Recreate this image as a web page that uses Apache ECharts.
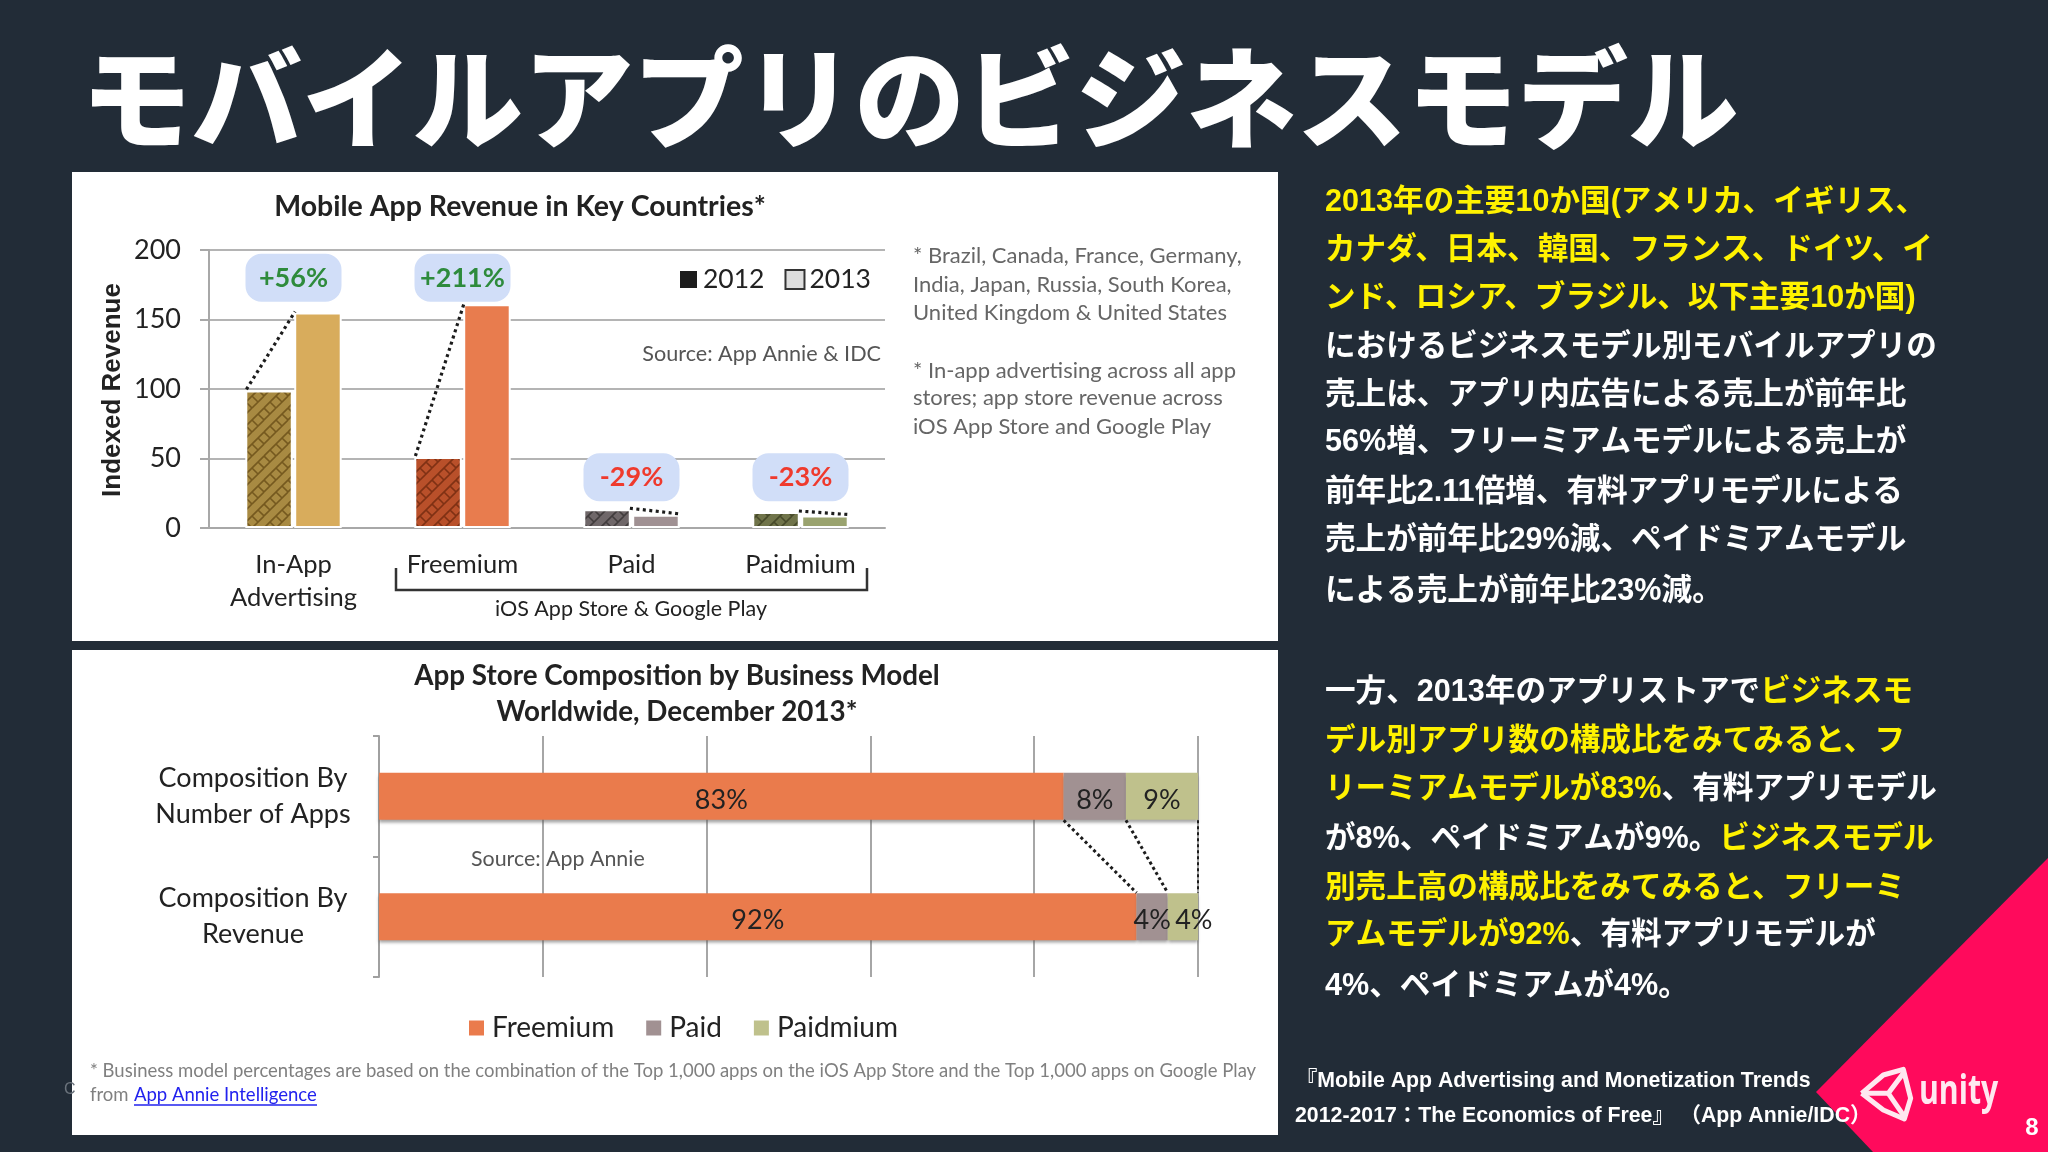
<!DOCTYPE html>
<html><head><meta charset="utf-8">
<style>html,body{margin:0;padding:0;background:#222c37}#c{width:2048px;height:1152px}</style>
<script src="https://cdn.jsdelivr.net/npm/echarts@6/dist/echarts.min.js"></script>
</head><body><div id="c"></div>
<script>
const revenueCategories = ['In-App\nAdvertising', 'Freemium', 'Paid', 'Paidmium'];
const revenue2012 = [99, 51, 13.5, 11.5];
const revenue2013 = [155, 161, 9.5, 9];
const growthLabels = ['+56%', '+211%', '-29%', '-23%'];
const growthHeights = [180, 180, 36.5, 36.5];
const revenueTicks = { min: 0, max: 200, interval: 50 };

const compositionCategories = ['Composition By\nNumber of Apps', 'Composition By\nRevenue'];
const freemiumShare = [83.6, 92.5];
const paidShare = [7.6, 3.8];
const paidmiumShare = [8.8, 3.7];
const freemiumLabels = ['83%', '92%'];
const paidLabels = ['8%', '4%'];
const paidmiumLabels = ['9%', '4%'];

const titleText = 'モバイルアプリのビジネスモデル';
const bodyLines = [
  [['y', '2013年の主要10か国(アメリカ、イギリス、']],
  [['y', 'カナダ、日本、韓国、フランス、ドイツ、イ']],
  [['y', 'ンド、ロシア、ブラジル、以下主要10か国)']],
  [['w', 'におけるビジネスモデル別モバイルアプリの']],
  [['w', '売上は、アプリ内広告による売上が前年比']],
  [['w', '56%増、フリーミアムモデルによる売上が']],
  [['w', '前年比2.11倍増、有料アプリモデルによる']],
  [['w', '売上が前年比29%減、ペイドミアムモデル']],
  [['w', 'による売上が前年比23%減。']],
  [['w', '一方、2013年のアプリストアで'], ['y', 'ビジネスモ']],
  [['y', 'デル別アプリ数の構成比をみてみると、フ']],
  [['y', 'リーミアムモデルが83%'], ['w', '、有料アプリモデル']],
  [['w', 'が8%、ペイドミアムが9%。'], ['y', 'ビジネスモデル']],
  [['y', '別売上高の構成比をみてみると、フリーミ']],
  [['y', 'アムモデルが92%'], ['w', '、有料アプリモデルが']],
  [['w', '4%、ペイドミアムが4%。']]
];
const bodyLineY = [203, 251, 299, 348, 396, 443, 493, 541, 592, 693, 742, 790, 840, 889, 936, 987];
const noteLines = ['* Brazil, Canada, France, Germany,', 'India, Japan, Russia, South Korea,', 'United Kingdom & United States',
  '* In-app advertising across all app', 'stores; app store revenue across', 'iOS App Store and Google Play'];
const noteLineY = [256, 285, 313, 371, 398, 427];

const LATO = 'Lato, "Noto Sans"';
const JP = '"Liberation Sans", "Noto Sans CJK JP"';

function brick(base, line) {
  const T = 24, cv = document.createElement('canvas');
  cv.width = cv.height = T;
  const g = cv.getContext('2d');
  g.fillStyle = base; g.fillRect(0, 0, T, T);
  g.strokeStyle = line; g.lineWidth = 1.6;
  for (let dx = -T; dx <= T; dx += T) for (let dy = -T; dy <= T; dy += T) {
    g.beginPath();
    g.moveTo(dx, dy + T); g.lineTo(dx + T, dy);
    g.moveTo(dx + T / 2, dy + T); g.lineTo(dx + T, dy + T / 2);
    g.moveTo(dx, dy + T / 2); g.lineTo(dx + T / 2, dy);
    g.moveTo(dx + T / 4, dy + 3 * T / 4); g.lineTo(dx + T / 2, dy + T);
    g.moveTo(dx + T / 2, dy + T / 2); g.lineTo(dx + 3 * T / 4, dy + 3 * T / 4);
    g.moveTo(dx + 3 * T / 4, dy + T / 4); g.lineTo(dx + T, dy + T / 2);
    g.moveTo(dx, dy); g.lineTo(dx + T / 4, dy + T / 4);
    g.stroke();
  }
  return { image: cv, repeat: 'repeat' };
}
const colors2012 = [brick('#a88a42', '#75591f'), brick('#b9502a', '#7f3114'), brick('#6f6769', '#413c3d'), brick('#70744a', '#474a2a')];
const colors2013 = ['#d8ac5c', '#e87c4e', '#a09193', '#9aa36f'];

function txt(x, y, text, size, opt) {
  opt = opt || {};
  return { type: 'text', z: opt.z || 20, x, y, scaleX: opt.scaleX || 1, style: {
    x: 0, y: 0, text, fill: opt.fill || '#222',
    fontSize: size, fontFamily: opt.family || LATO, fontWeight: opt.weight || 'normal',
    textAlign: opt.align || 'left', textVerticalAlign: 'middle', rich: opt.rich
  } };
}
const U = (zx, zy) => [1840 + zx / 3, 1050 + zy / 3];
const rich = {
  y: { fill: '#fff200', fontSize: 30.6, fontWeight: 'bold', fontFamily: JP },
  w: { fill: '#ffffff', fontSize: 30.6, fontWeight: 'bold', fontFamily: JP }
};
const graphics = [
  { type: 'rect', z: 1, shape: { x: 72, y: 172, width: 1206, height: 469 }, style: { fill: '#fff' } },
  { type: 'rect', z: 1, shape: { x: 72, y: 650, width: 1206, height: 485 }, style: { fill: '#fff' } },
  { type: 'polygon', z: 1, shape: { points: [[1816, 1092], [2048, 858], [2048, 1152], [1873, 1152]] }, style: { fill: '#ff0a5c' } },
  txt(64, 1090, 'C', 16, { fill: '#6b737c', z: 0, family: JP }),
  txt(81, 98, titleText, 110.5, { fill: '#fff', weight: 900, family: '"Noto Sans CJK JP"' }),
  txt(520, 207, 'Mobile App Revenue in Key Countries*', 28.5, { weight: 'bold', align: 'center' }),
  txt(881, 354, 'Source: App Annie & IDC', 21.6, { fill: '#555', align: 'right' }),
  txt(631, 609, 'iOS App Store & Google Play', 21.5, { align: 'center' }),
  { type: 'polyline', z: 20, shape: { points: [[396, 568], [396, 590], [867, 590], [867, 568]] }, style: { stroke: '#333', lineWidth: 2.5, fill: null } },
  txt(677, 676, 'App Store Composition by Business Model', 27.8, { weight: 'bold', align: 'center' }),
  txt(677, 712, 'Worldwide, December 2013*', 27.8, { weight: 'bold', align: 'center' }),
  txt(471, 859, 'Source: App Annie', 21.4, { fill: '#555' }),
  txt(90, 1071, '* Business model percentages are based on the combination of the Top 1,000 apps on the iOS App Store and the Top 1,000 apps on Google Play', 18.5, { fill: '#808080' }),
  txt(90, 1095, 'from', 18.5, { fill: '#808080' }),
  txt(134, 1095, 'App Annie Intelligence', 18.5, { fill: '#2222ee' }),
  { type: 'line', z: 20, shape: { x1: 134, y1: 1105, x2: 317, y2: 1105 }, style: { stroke: '#2222ee', lineWidth: 1.5 } },
  txt(1296, 1081, '『Mobile App Advertising and Monetization Trends', 21.3, { fill: '#fff', weight: 'bold', family: JP }),
  txt(1295, 1116, '2012-2017：The Economics of Free』 （App Annie/IDC）', 21.3, { fill: '#fff', weight: 'bold', family: JP }),
  { type: 'polyline', z: 21, shape: { points: [U(65, 130), U(130, 75), U(190, 58), U(212, 145), U(193, 207), U(130, 180), U(65, 130)] }, style: { stroke: '#ffe8f0', lineWidth: 5, fill: null, lineJoin: 'round' } },
  { type: 'polyline', z: 21, shape: { points: [U(65, 130), U(145, 130), U(190, 70)] }, style: { stroke: '#ffe8f0', lineWidth: 5, fill: null } },
  { type: 'polyline', z: 21, shape: { points: [U(145, 130), U(193, 200)] }, style: { stroke: '#ffe8f0', lineWidth: 5, fill: null } },
  txt(1919, 1092, 'unity', 42, { fill: '#ffe8f0', weight: 'bold', family: '"Open Sans"', scaleX: 0.72 }),
  txt(2032, 1128, '8', 24, { fill: '#fff', weight: 'bold', family: JP, align: 'center' })
];
graphics.push({ type: 'text', z: 20, rotation: Math.PI / 2, x: 113, y: 390, style: { text: 'Indexed Revenue', fill: '#222', fontSize: 26, fontWeight: 'bold', fontFamily: JP, textAlign: 'center', textVerticalAlign: 'middle' } });
bodyLines.forEach((segs, i) => {
  graphics.push(txt(1325, bodyLineY[i], segs.map(s => '{' + s[0] + '|' + s[1] + '}').join(''), 30.6, { rich, family: JP, weight: 'bold' }));
});
noteLines.forEach((t, i) => graphics.push(txt(913, noteLineY[i], t, 22, { fill: '#666' })));

const barStep = 1.6, barSpan = 45.5;
function renderConnector(params, api) {
  const c = api.coord([api.value(0), 0])[0];
  const a = api.value(1), b = api.value(2);
  const rising = b > a;
  const x1 = rising ? c - barStep - barSpan : c - barStep;
  const x2 = rising ? c + barStep : c + barStep + barSpan;
  return { type: 'line', shape: { x1, y1: api.coord([0, a])[1] - 1, x2, y2: api.coord([0, b])[1] - 1 },
    style: { stroke: '#1c1c1c', lineWidth: 3.2, lineDash: [3, 3.5] } };
}
function renderBubble(params, api) {
  const p = api.coord([api.value(0), api.value(1)]);
  const text = growthLabels[params.dataIndex];
  return { type: 'group', children: [
    { type: 'rect', shape: { x: p[0] - 48, y: p[1] - 24, width: 96, height: 48, r: 16 }, style: { fill: '#d1def8' } },
    { type: 'text', style: { x: p[0], y: p[1], text, fill: text[0] === '+' ? '#2e8b3c' : '#ef3a2d', fontSize: 27, fontWeight: 'bold', fontFamily: LATO, textAlign: 'center', textVerticalAlign: 'middle' } }
  ] };
}
const halfBar = 24;
function renderLink(params, api) {
  const top = api.coord([api.value(0), 0]);
  const bot = api.coord([api.value(1), 1]);
  return { type: 'line', shape: { x1: top[0], y1: top[1] + halfBar, x2: bot[0], y2: bot[1] - halfBar },
    style: { stroke: '#1c1c1c', lineWidth: params.dataIndex === 2 ? 2 : 3, lineDash: [3, 3] } };
}
const cumTop = [freemiumShare[0], freemiumShare[0] + paidShare[0], freemiumShare[0] + paidShare[0] + paidmiumShare[0]];
const cumBot = [freemiumShare[1], freemiumShare[1] + paidShare[1], freemiumShare[1] + paidShare[1] + paidmiumShare[1]];
const stackLabel = names => ({ show: true, position: 'inside', offset: [0, 4], color: '#222', fontSize: 27, fontFamily: LATO, formatter: p => names[p.dataIndex] });
const shadow = { shadowColor: 'rgba(90,90,90,0.55)', shadowBlur: 3, shadowOffsetY: 3 };

const option = {
  animation: false,
  backgroundColor: '#222c37',
  graphic: graphics,
  legend: [
    { left: 678, top: 266, padding: 0, itemWidth: 19, itemHeight: 19, itemGap: 20, selectedMode: false, icon: 'rect',
      textStyle: { fontSize: 26.5, color: '#222', fontFamily: LATO },
      data: [{ name: '2012', itemStyle: { color: '#1c1c1c' } }, { name: '2013', itemStyle: { color: '#dddddd', borderColor: '#333', borderWidth: 2 } }] },
    { left: 469, top: 1014, padding: 0, itemWidth: 15, itemHeight: 15, itemGap: 32, selectedMode: false, icon: 'rect',
      textStyle: { fontSize: 28, color: '#222', fontFamily: LATO, padding: [0, 0, 0, 3] },
      data: ['Freemium', 'Paid', 'Paidmium'] }
  ],
  grid: [
    { left: 209, top: 250, width: 676, height: 278 },
    { left: 379, top: 736, width: 819, height: 241 }
  ],
  xAxis: [
    { type: 'category', gridIndex: 0, z: 2, data: revenueCategories,
      axisLine: { lineStyle: { color: '#a8a8a8', width: 2 } }, axisTick: { length: 9, lineStyle: { color: '#a8a8a8', width: 2 } },
      axisLabel: { interval: 0, margin: 20, fontSize: 25.5, lineHeight: 33, color: '#222', fontFamily: LATO } },
    { type: 'value', gridIndex: 1, z: 2, min: 0, max: 100, interval: 20,
      axisLine: { show: false }, axisTick: { show: false }, axisLabel: { show: false },
      splitLine: { lineStyle: { color: '#a6a6a6', width: 2 } } }
  ],
  yAxis: [
    { type: 'value', gridIndex: 0, z: 2, min: revenueTicks.min, max: revenueTicks.max, interval: revenueTicks.interval,
      axisLine: { show: true, lineStyle: { color: '#a8a8a8', width: 2 } }, axisTick: { show: true, length: 9, lineStyle: { color: '#a8a8a8', width: 2 } },
      axisLabel: { margin: 28, fontSize: 27, color: '#222', fontFamily: LATO },
      splitLine: { lineStyle: { color: '#b4b4b4', width: 2 } } },
    { type: 'category', gridIndex: 1, z: 2, inverse: true, data: compositionCategories,
      axisLine: { show: true, lineStyle: { color: '#a0a0a0', width: 2 } }, axisTick: { show: true, length: 6, lineStyle: { color: '#a0a0a0', width: 2 } },
      axisLabel: { margin: 126, fontSize: 27, lineHeight: 36, color: '#222', fontFamily: LATO, align: 'center' } }
  ],
  series: [
    { name: '2012', type: 'bar', xAxisIndex: 0, yAxisIndex: 0, barWidth: 47.5, barGap: '3%', z: 3,
      itemStyle: { borderColor: '#fff', borderWidth: 2 },
      data: revenue2012.map((v, i) => ({ value: v, itemStyle: { color: colors2012[i] } })) },
    { name: '2013', type: 'bar', xAxisIndex: 0, yAxisIndex: 0, barWidth: 47.5, z: 3,
      itemStyle: { borderColor: '#fff', borderWidth: 2 },
      data: revenue2013.map((v, i) => ({ value: v, itemStyle: { color: colors2013[i] } })) },
    { type: 'custom', xAxisIndex: 0, yAxisIndex: 0, z: 5, renderItem: renderConnector, encode: { x: 0, y: [1, 2] }, silent: true,
      data: revenueCategories.map((c, i) => [i, revenue2012[i], revenue2013[i]]) },
    { type: 'custom', xAxisIndex: 0, yAxisIndex: 0, z: 6, renderItem: renderBubble, encode: { x: 0, y: 1 }, silent: true,
      data: growthHeights.map((h, i) => [i, h]) },
    { name: 'Freemium', type: 'bar', xAxisIndex: 1, yAxisIndex: 1, stack: 'c', barWidth: 47, z: 3,
      itemStyle: Object.assign({ color: '#ea7b4c' }, shadow), label: stackLabel(freemiumLabels), data: freemiumShare },
    { name: 'Paid', type: 'bar', xAxisIndex: 1, yAxisIndex: 1, stack: 'c', z: 3,
      itemStyle: Object.assign({ color: '#a19192' }, shadow), label: stackLabel(paidLabels), data: paidShare },
    { name: 'Paidmium', type: 'bar', xAxisIndex: 1, yAxisIndex: 1, stack: 'c', z: 3,
      itemStyle: Object.assign({ color: '#bfc18c' }, shadow), label: stackLabel(paidmiumLabels),
      data: [paidmiumShare[0], { value: paidmiumShare[1], label: { offset: [11, 4] } }] },
    { type: 'custom', xAxisIndex: 1, yAxisIndex: 1, z: 5, renderItem: renderLink, encode: { x: [0, 1] }, silent: true,
      data: cumTop.map((t, i) => [t, cumBot[i]]) }
  ]
};
const chart = echarts.init(document.getElementById('c'), null, { width: 2048, height: 1152 });
chart.setOption(option);
</script></body></html>
